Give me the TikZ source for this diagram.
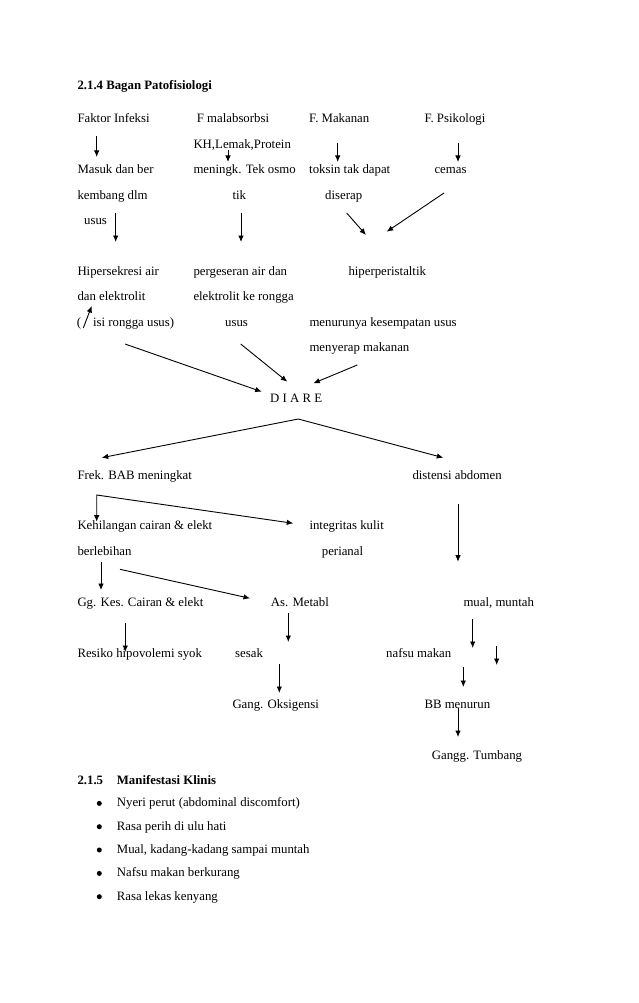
\documentclass[tikz,border=0pt]{standalone}
\usepackage{fontspec}
\setmainfont{Liberation Serif}
\usetikzlibrary{arrows.meta,positioning}
\tikzstyle{lbl} = [anchor=base west, inner sep=0pt]
\tikzstyle{ar} = [->, line width=0.9pt]
\tikzstyle{dot} = [circle, fill=black, inner sep=0pt, minimum size=5pt]

\begin{document}
\begin{tikzpicture}[x=1pt, y=-1pt, >={Latex[length=6.5pt,width=5.5pt]}, font=\fontsize{12.8}{15}\selectfont]
  \useasboundingbox [fill=white] (0,0) rectangle (638,1003);

  % Heading
  \node [lbl, font=\fontsize{12.8}{15}\selectfont\bfseries] (head) at (77.3,89.5) {2.1.4 Bagan Patofisiologi};

  % Causes
  \node [lbl] (fi)  at (77.3,122.7) {Faktor Infeksi};
  \node [lbl] (fm)  at (196.7,122.7) {F malabsorbsi};
  \node [lbl] (fmk) at (309,122.7) {F. Makanan};
  \node [lbl] (fps) at (424.3,122.7) {F. Psikologi};
  \node [lbl] (kh)  at (193.3,148.2) {KH,Lemak,Protein};
  \node [lbl] (mdb) at (77.3,173.6) {Masuk dan ber};
  \node [lbl] (tek) at (193.3,173.6) {meningk. Tek osmo};
  \node [lbl] (tok) at (309,173.6) {toksin tak dapat};
  \node [lbl] (cem) at (434.3,173.6) {cemas};
  \node [lbl] (kem) at (77.3,199.1) {kembang dlm};
  \node [lbl] (tik) at (232.3,199.1) {tik};
  \node [lbl] (dis) at (325,199.1) {diserap};
  \node [lbl] (usu) at (84,224.5) {usus};

  % Mechanisms
  \node [lbl] (hip) at (77.3,275.4) {Hipersekresi air};
  \node [lbl] (per) at (193.3,275.4) {pergeseran air dan};
  \node [lbl] (hpe) at (348.3,275.4) {hiperperistaltik};
  \node [lbl] (dan) at (77.3,300.9) {dan elektrolit};
  \node [lbl] (ekr) at (193.3,300.9) {elektrolit ke rongga};
  \node [lbl] (par) at (76.7,326.3) {(};
  \node [inner sep=0pt, right=11.5pt of par] (isi) {isi rongga usus)};
  \node [lbl] (usu2) at (225,326.3) {usus};
  \node [lbl] (men) at (309.3,326.3) {menurunya kesempatan usus};
  \node [lbl] (mny) at (309.3,351.8) {menyerap makanan};
  \node [lbl] (diare) at (270,402.3) {D I A R E};

  % Effects
  \node [lbl] (frek)  at (77.3,479) {Frek. BAB meningkat};
  \node [lbl] (dist)  at (412.3,479) {distensi abdomen};
  \node [lbl] (kehil) at (77.3,529.9) {Kehilangan cairan \& elekt};
  \node [lbl] (integ) at (309.3,529.9) {integritas kulit};
  \node [lbl] (berl)  at (77.3,555.4) {berlebihan};
  \node [lbl] (peri)  at (321.7,555.4) {perianal};
  \node [lbl] (ggk)   at (77.3,606.3) {Gg. Kes. Cairan \& elekt};
  \node [lbl] (asm)   at (270.7,606.3) {As. Metabl};
  \node [lbl] (mual)  at (463.3,606.3) {mual, muntah};
  \node [lbl] (res)   at (77.3,657.2) {Resiko hipovolemi syok};
  \node [lbl] (ses)   at (235,657.2) {sesak};
  \node [lbl] (naf)   at (386,657.2) {nafsu makan};
  \node [lbl] (oks)   at (232.3,708.1) {Gang. Oksigensi};
  \node [lbl] (bb)    at (424.3,708.1) {BB menurun};
  \node [lbl] (tumb)  at (431.7,759) {Gangg. Tumbang};

  % Arrow ends
  \coordinate (a-fi) at (96.7,136);    \coordinate (b-fi) at (96.7,157);
  \coordinate (a-kh) at (228,150);     \coordinate (b-kh) at (228,162);
  \coordinate (a-mk) at (337.7,143);   \coordinate (b-mk) at (337.7,162);
  \coordinate (a-ps) at (458,143);     \coordinate (b-ps) at (458,162);
  \coordinate (a-us) at (115.7,213);   \coordinate (b-us) at (115.7,242);
  \coordinate (a-tk) at (241,213);     \coordinate (b-tk) at (241,242);
  \coordinate (a-ds) at (346.7,213);   \coordinate (b-ds) at (366,235);
  \coordinate (a-cm) at (444,193);     \coordinate (b-cm) at (386.7,231.7);
  \coordinate (a-pr) at (83.3,328);    \coordinate (b-pr) at (91.7,306);
  \coordinate (a-hs) at (125,344);     \coordinate (b-hs) at (261.7,391.7);
  \coordinate (a-u2) at (240.7,344);   \coordinate (b-u2) at (287.3,381.7);
  \coordinate (a-my) at (357.3,365);   \coordinate (b-my) at (313.3,383.3);
  \coordinate (d-top) at (298.3,419);
  \coordinate (d-l) at (101.7,457.7);  \coordinate (d-r) at (443.3,457.7);
  \coordinate (a-dt) at (458,504);     \coordinate (b-dt) at (458,561.7);
  \coordinate (f-top) at (96.7,495);
  \coordinate (f-dn) at (96.7,521.7);  \coordinate (f-in) at (293.3,523.3);
  \coordinate (a-bl) at (101,562);     \coordinate (b-bl) at (101,590);
  \coordinate (a-as) at (120,569.3);   \coordinate (b-as) at (250,598.3);
  \coordinate (a-me) at (288.3,613);   \coordinate (b-me) at (288.3,642);
  \coordinate (a-gk) at (125.3,623);   \coordinate (b-gk) at (125.3,652);
  \coordinate (a-ss) at (279.3,664);   \coordinate (b-ss) at (279.3,693);
  \coordinate (a-mu) at (472.7,619);   \coordinate (b-mu) at (472.7,648);
  \coordinate (a-x)  at (496.7,646);   \coordinate (b-x)  at (496.7,665);
  \coordinate (a-nf) at (463.3,667);   \coordinate (b-nf) at (463.3,687);
  \coordinate (a-bb) at (458,708);     \coordinate (b-bb) at (458,737);

  % Arrows
  \draw [ar] (a-fi) -- (b-fi);
  \draw [ar] (a-kh) -- (b-kh);
  \draw [ar] (a-mk) -- (b-mk);
  \draw [ar] (a-ps) -- (b-ps);
  \draw [ar] (a-us) -- (b-us);
  \draw [ar] (a-tk) -- (b-tk);
  \draw [ar] (a-ds) -- (b-ds);
  \draw [ar] (a-cm) -- (b-cm);
  \draw [ar] (a-pr) -- (b-pr);
  \draw [ar] (a-hs) -- (b-hs);
  \draw [ar] (a-u2) -- (b-u2);
  \draw [ar] (a-my) -- (b-my);
  \draw [ar, <->] (d-l) -- (d-top) -- (d-r);
  \draw [ar] (a-dt) -- (b-dt);
  \draw [ar, <->] (f-dn) -- (f-top) -- (f-in);
  \draw [ar] (a-bl) -- (b-bl);
  \draw [ar] (a-as) -- (b-as);
  \draw [ar] (a-me) -- (b-me);
  \draw [ar] (a-gk) -- (b-gk);
  \draw [ar] (a-ss) -- (b-ss);
  \draw [ar] (a-mu) -- (b-mu);
  \draw [ar] (a-x) -- (b-x);
  \draw [ar] (a-nf) -- (b-nf);
  \draw [ar] (a-bb) -- (b-bb);

  % Manifestasi Klinis
  \node [lbl, font=\fontsize{12.8}{15}\selectfont\bfseries] (num2) at (77.3,784.5) {2.1.5};
  \node [lbl, font=\fontsize{12.8}{15}\selectfont\bfseries] (head2) at (116.7,784.5) {Manifestasi Klinis};
  \node [lbl] (it1) at (116.7,806.7) {Nyeri perut (abdominal discomfort)};
  \node [lbl] (it2) at (116.7,830) {Rasa perih di ulu hati};
  \node [lbl] (it3) at (116.7,853.3) {Mual, kadang-kadang sampai muntah};
  \node [lbl] (it4) at (116.7,876.7) {Nafsu makan berkurang};
  \node [lbl] (it5) at (116.7,900) {Rasa lekas kenyang};
  \foreach \i/\yy in {1/803.4, 2/826.7, 3/850, 4/873.4, 5/896.7}
    \node [dot] (bul\i) at (99.3,\yy) {};
\end{tikzpicture}
\end{document}
